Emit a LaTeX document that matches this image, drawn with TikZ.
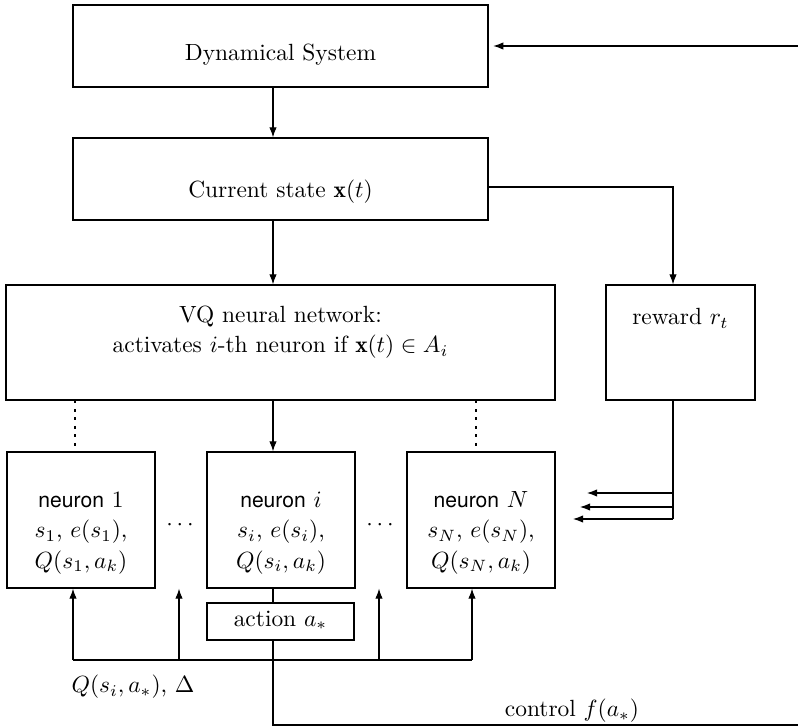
\documentclass[tikz,border=0pt]{standalone}
\usepackage{fontspec}
\setsansfont{TeX Gyre Heros}[Scale=0.9]
\usetikzlibrary{arrows.meta}
\tikzset{
  block/.style={draw, line width=0.5pt, align=center, inner sep=0pt},
  neuronbox/.style={block, minimum width=2.22cm, text height=1.74cm, text depth=0.3cm},
  flow/.style={-{Latex[length=1.5mm,width=1.1mm]}, line width=0.45pt},
  link/.style={line width=0.45pt},
  dots/.style={line width=1.2pt, dash pattern=on 1.2pt off 2.4pt},
}
\begin{document}
\begin{tikzpicture}[x=0.015cm, y=-0.015cm]
\useasboundingbox (0,0) rectangle (798,727);
% boxes
\node[block, minimum width=6.225cm, text height=0.84cm, text depth=0.39cm] (sys) at (280.5,46) {Dynamical System};
\node[block, minimum width=6.225cm, text height=0.9cm, text depth=0.33cm] (state) at (280.5,179) {Current state $\mathbf{x}(t)$};
\node[block, minimum width=8.235cm, text height=1.02cm, text depth=0.705cm] (vq) at (280.5,342.5) {VQ neural network:\\[1pt] activates $i$-th neuron if $\mathbf{x}(t)\in A_i$};
\node[block, minimum width=2.235cm, text height=0.6cm, text depth=1.125cm] (rew) at (680.5,342.5) {reward $r_t$};
\node[neuronbox] (n1) at (81,520) {\textsf{neuron} $1$\\[1pt] $s_1$, $e(s_1)$,\\[1pt] $Q(s_1,a_k)$};
\node[neuronbox] (ni) at (281,520) {\textsf{neuron} $i$\\[1pt] $s_i$, $e(s_i)$,\\[1pt] $Q(s_i,a_k)$};
\node[neuronbox] (nN) at (481,520) {\textsf{neuron} $N$\\[1pt] $s_N$, $e(s_N)$,\\[1pt] $Q(s_N,a_k)$};
\node[block, minimum width=2.205cm, text height=0.345cm, text depth=0.21cm] (act) at (280.5,621.5) {action $a_*$};
% labels
\node (gap1) at (180,525) {$\cdots$};
\node (gap2) at (380,525) {$\cdots$};
\node (qlab) at (133,687) {$Q(s_i,a_*)$, $\Delta$};
\node (ctl) at (572,711) {control $f(a_*)$};
% helper points
\coordinate (mid) at (273,0);
\coordinate (feed) at (798,46);
\coordinate (rx) at (673,187);
\coordinate (dl) at (75,0);
\coordinate (dr) at (476,0);
\coordinate (r1) at (587,493);
\coordinate (r2) at (580,507);
\coordinate (r3) at (573,519);
\coordinate (b1) at (73,660);
\coordinate (b2) at (179,660);
\coordinate (b3) at (379,660);
\coordinate (b4) at (472,660);
\coordinate (out) at (798,725);
% connectors
\draw[flow, shorten >=0.07cm] (feed) -- (sys.east |- feed);
\draw[flow] (sys.south -| mid) -- (state.north -| mid);
\draw[flow] (state.east |- rx) -| (rew.north -| rx);
\draw[flow] (state.south -| mid) -- (vq.north -| mid);
\draw[flow] (vq.south -| mid) -- (ni.north -| mid);
\draw[dots] (vq.south -| dl) -- (n1.north -| dl);
\draw[dots] (vq.south -| dr) -- (nN.north -| dr);
\draw[link] (rew.south -| rx) -- (rx |- r3);
\draw[flow] (rx |- r1) -- (r1);
\draw[flow] (rx |- r2) -- (r2);
\draw[flow] (rx |- r3) -- (r3);
\draw[link] (b1) -- (b4);
\draw[flow] (b1) -- (n1.south -| b1);
\draw[flow] (b2) -- (b2 |- n1.south);
\draw[flow] (b3) -- (b3 |- n1.south);
\draw[flow] (b4) -- (nN.south -| b4);
\draw[link] (ni.south -| mid) -- (act.north -| mid);
\draw[link] (act.south -| mid) |- (out);
\end{tikzpicture}
\end{document}
